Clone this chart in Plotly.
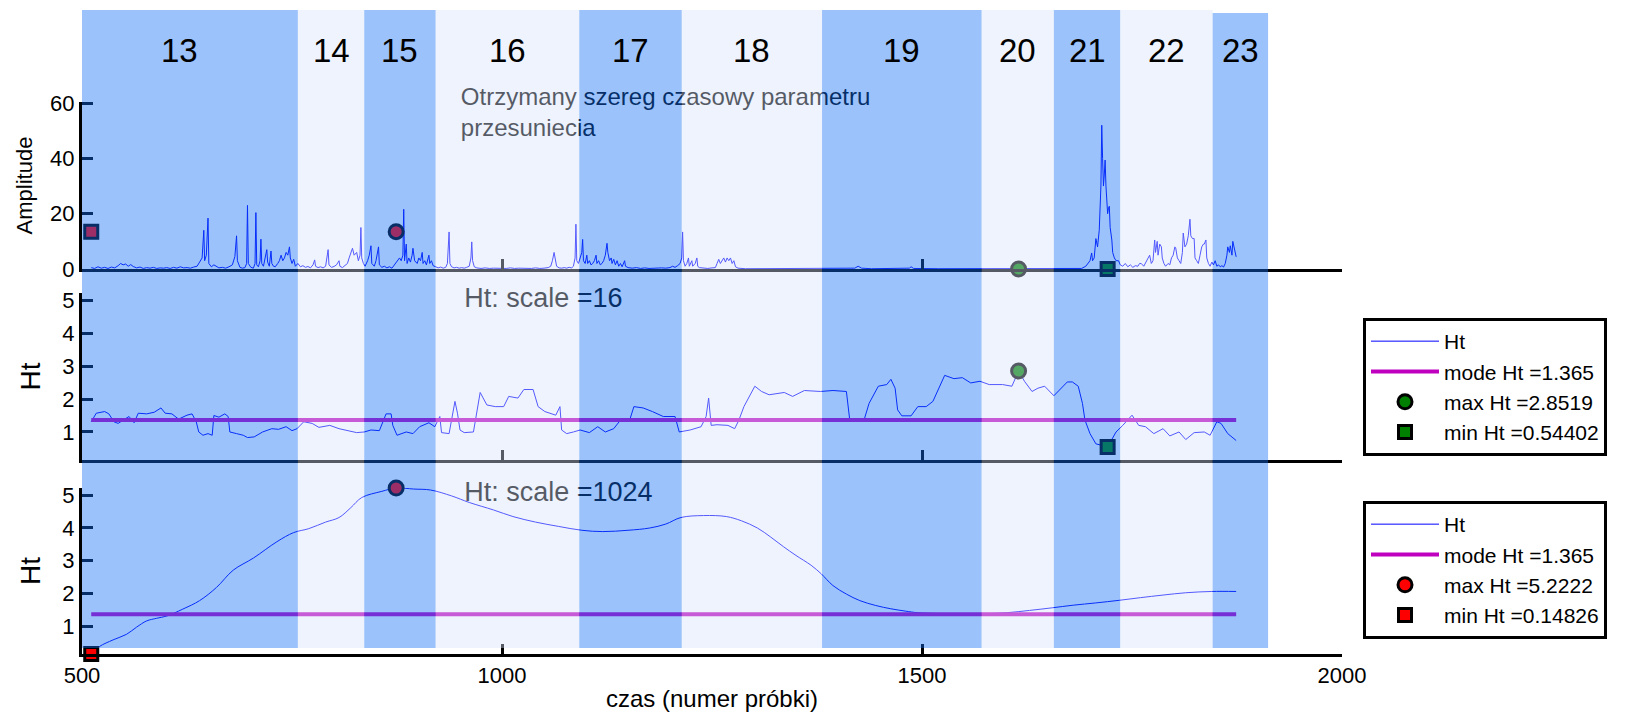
import plotly.graph_objects as go

W, H = 1642, 712
FONT = "Liberation Sans, Arial, Helvetica, sans-serif"

# ---------------- data ----------------
segments = ["13", "14", "15", "16", "17", "18", "19", "20", "21", "22", "23"]
segment_edges = [476, 757, 836, 921, 1092, 1214, 1381, 1571, 1657, 1736, 1846, 1912]

amp_x = [511, 515, 519, 523, 527, 531, 535, 539, 543, 546, 549, 552, 555, 558, 561, 565, 569, 573, 577, 581,
         585, 589, 593, 597, 601, 605, 609, 613, 617, 621, 625, 629, 633, 637, 640, 643, 645, 646, 648, 650,
         651, 654, 657, 660, 663, 667, 671, 675, 679, 682, 684, 685, 688, 691, 694, 696, 697, 698, 701, 704,
         706, 707, 708, 710, 712, 713, 714, 716, 718, 720, 721, 723, 725, 726, 728, 730, 733, 735, 737, 739,
         741, 743, 745, 747, 748, 750, 752, 754, 757, 760, 763, 766, 769, 772, 775, 777, 778, 781, 784, 787,
         790, 793, 794, 797, 800, 803, 806, 807, 810, 813, 816, 818, 820, 822, 824, 827, 829, 831, 832, 833,
         835, 837, 840, 842, 844, 845, 848, 850, 853, 854, 857, 860, 863, 866, 869, 872, 875, 878, 880, 882,
         883, 884, 886, 887, 889, 891, 893, 894, 896, 899, 901, 903, 905, 906, 908, 910, 913, 914, 916, 918,
         921, 924, 927, 930, 933, 935, 937, 938, 940, 943, 946, 949, 952, 955, 958, 961, 963, 964, 965, 967,
         970, 975, 980, 985, 990, 995, 1000, 1005, 1010, 1015, 1020, 1025, 1030, 1035, 1040, 1045, 1050, 1055, 1058, 1060,
         1062, 1063, 1065, 1068, 1071, 1074, 1077, 1080, 1083, 1085, 1087, 1088, 1089, 1091, 1093, 1095, 1096, 1097, 1099, 1101,
         1102, 1104, 1106, 1108, 1110, 1112, 1113, 1115, 1117, 1119, 1121, 1123, 1125, 1126, 1128, 1130, 1131, 1133, 1135, 1137,
         1139, 1141, 1143, 1146, 1147, 1150, 1155, 1160, 1165, 1170, 1175, 1180, 1185, 1190, 1195, 1200, 1203, 1206, 1209, 1212,
         1214, 1215, 1216, 1218, 1220, 1222, 1223, 1226, 1227, 1230, 1232, 1233, 1235, 1240, 1245, 1250, 1254, 1256, 1258, 1260,
         1262, 1264, 1266, 1268, 1270, 1272, 1274, 1276, 1278, 1281, 1290, 1320, 1350, 1380, 1410, 1420, 1424, 1428, 1440, 1470,
         1485, 1487, 1490, 1520, 1550, 1580, 1610, 1640, 1670, 1690, 1695, 1698, 1700, 1702, 1703, 1705, 1707, 1709, 1711, 1713,
         1714, 1715, 1716, 1717, 1718, 1719, 1720, 1721, 1722, 1723, 1724, 1726, 1727, 1729, 1731, 1734, 1736, 1739, 1742, 1745,
         1748, 1751, 1754, 1757, 1759, 1761, 1764, 1767, 1769, 1771, 1773, 1775, 1777, 1778, 1780, 1781, 1783, 1785, 1786, 1788,
         1790, 1793, 1795, 1797, 1799, 1801, 1802, 1804, 1806, 1808, 1810, 1811, 1813, 1815, 1817, 1819, 1820, 1822, 1824, 1825,
         1827, 1829, 1831, 1833, 1835, 1836, 1838, 1839, 1841, 1843, 1845, 1847, 1849, 1851, 1853, 1855, 1857, 1859, 1861, 1863,
         1864, 1866, 1867, 1869, 1870, 1872, 1874]
amp_y = [0.5, 0.2, 0.8, 0.3, 0.6, 0.2, 0.7, 0.4, 1.2, 2.0, 1.5, 1.8, 1.0, 1.6, 0.9, 0.4, 0.7, 0.2, 0.5, 0.3,
         0.6, 0.2, 0.4, 0.3, 0.5, 0.2, 0.6, 0.3, 0.8, 0.4, 0.5, 0.3, 0.7, 1.0, 2.5, 4.0, 14.0, 3.0, 5.0, 18.4,
         2.0, 0.8, 1.5, 1.0, 0.4, 0.6, 0.3, 0.8, 1.5, 4.5, 12.0, 3.0, 0.6, 0.3, 0.5, 2.0, 23.0, 2.0, 0.6, 0.3,
         2.0, 20.4, 1.5, 0.8, 3.0, 10.8, 2.0, 1.0, 4.0, 7.0, 2.5, 1.0, 6.5, 2.0, 1.0, 0.8, 2.0, 3.0, 5.0, 3.0,
         4.0, 6.0, 5.0, 8.0, 4.0, 2.0, 3.5, 1.0, 2.0, 0.8, 1.2, 0.6, 0.9, 0.4, 1.5, 3.3, 1.0, 0.5, 0.8, 0.4,
         1.0, 7.0, 1.5, 0.6, 0.9, 1.5, 3.0, 1.0, 0.5, 1.2, 2.0, 4.0, 6.0, 7.5, 5.0, 6.0, 3.0, 5.0, 15.0, 4.0,
         2.0, 1.0, 3.0, 5.0, 8.4, 2.0, 1.0, 3.0, 8.0, 1.5, 0.6, 1.0, 0.4, 0.8, 0.3, 1.5, 2.5, 4.0, 3.0, 5.0,
         21.6, 3.0, 9.0, 2.0, 4.0, 2.5, 5.0, 7.5, 3.0, 2.0, 4.0, 3.0, 6.0, 2.0, 3.0, 1.5, 5.0, 2.0, 3.0, 1.2,
         0.8, 0.4, 0.7, 0.3, 0.6, 2.0, 13.4, 2.0, 0.8, 0.4, 0.6, 0.3, 0.5, 0.3, 0.6, 1.0, 4.0, 9.8, 3.0, 0.8,
         0.4, 0.2, 0.4, 0.2, 0.3, 0.2, 0.3, 0.2, 0.4, 0.2, 0.3, 0.2, 0.3, 0.2, 0.4, 0.2, 0.3, 0.5, 1.0, 3.0,
         6.0, 4.0, 1.0, 0.4, 0.3, 0.5, 0.3, 0.6, 0.4, 1.0, 4.0, 16.2, 3.0, 2.0, 4.0, 6.0, 10.7, 3.0, 2.0, 5.0,
         2.0, 3.0, 1.5, 2.0, 3.0, 5.0, 2.0, 3.0, 1.5, 2.0, 3.0, 5.0, 9.3, 6.0, 3.0, 4.0, 2.0, 3.5, 1.5, 3.0,
         1.0, 2.0, 0.8, 3.0, 1.0, 0.5, 0.3, 0.5, 0.2, 0.4, 0.2, 0.3, 0.2, 0.4, 0.3, 0.5, 1.0, 0.6, 1.2, 2.0,
         4.0, 13.4, 3.0, 1.0, 2.0, 4.0, 1.0, 3.0, 1.0, 2.0, 4.0, 1.0, 0.5, 0.3, 0.2, 0.4, 0.5, 2.0, 3.5, 2.0,
         3.0, 4.0, 2.5, 4.0, 3.0, 4.0, 2.0, 3.0, 0.8, 0.3, 0.1, 0.1, 0.1, 0.1, 0.1, 0.3, 1.0, 0.3, 0.1, 0.1,
         0.3, 0.8, 0.2, 0.1, 0.1, 0.1, 0.1, 0.1, 0.1, 0.2, 1.0, 2.0, 3.0, 5.8, 3.0, 4.0, 11.0, 8.0, 14.0, 30.0,
         52.0, 40.0, 30.0, 34.0, 39.4, 30.0, 25.0, 20.0, 22.0, 22.7, 15.0, 10.5, 6.0, 4.0, 3.0, 3.0, 1.5, 1.0, 2.0, 0.8,
         1.5, 0.6, 1.2, 1.0, 2.0, 2.0, 1.0, 2.5, 3.5, 5.0, 2.0, 3.0, 10.5, 6.0, 10.0, 5.0, 9.0, 8.0, 4.0, 2.0,
         1.0, 2.0, 1.5, 4.0, 5.0, 8.0, 7.7, 4.0, 3.0, 2.0, 6.0, 13.0, 8.0, 9.0, 12.0, 18.0, 12.0, 11.0, 11.0, 4.0,
         3.0, 2.0, 5.0, 8.0, 9.0, 9.0, 10.5, 4.0, 2.0, 1.0, 2.5, 1.5, 3.0, 1.0, 1.5, 0.8, 1.2, 0.7, 2.0, 5.0,
         8.0, 6.0, 8.4, 5.0, 10.0, 7.0, 4.4]

ht16_x = [511, 517, 527, 532, 538, 543, 549, 556, 562, 567, 577, 586, 594, 599, 607, 615, 625, 631, 636, 639,
          644, 650, 655, 657, 663, 670, 674, 676, 684, 692, 697, 705, 715, 726, 734, 743, 750, 756, 764, 774,
          782, 795, 806, 817, 827, 836, 844, 854, 862, 868, 870, 875, 886, 894, 902, 913, 920, 926, 928, 937,
          944, 947, 950, 955, 966, 974, 982, 992, 1002, 1008, 1019, 1026, 1037, 1043, 1051, 1064, 1069, 1071, 1077, 1085,
          1093, 1104, 1114, 1123, 1133, 1141, 1152, 1157, 1168, 1179, 1192, 1206, 1211, 1224, 1237, 1243, 1246, 1249, 1256, 1269,
          1277, 1282, 1288, 1301, 1309, 1318, 1336, 1346, 1360, 1379, 1394, 1410, 1414, 1420, 1431, 1437, 1448, 1458, 1463, 1468,
          1471, 1476, 1487, 1495, 1505, 1513, 1519, 1527, 1538, 1548, 1558, 1569, 1580, 1596, 1607, 1615, 1622, 1631, 1638, 1646,
          1657, 1662, 1673, 1679, 1686, 1691, 1694, 1700, 1707, 1721, 1731, 1739, 1750, 1758, 1766, 1776, 1787, 1795, 1806, 1814,
          1824, 1836, 1843, 1851, 1856, 1864, 1874]
ht16_y = [1.31, 1.57, 1.62, 1.55, 1.31, 1.26, 1.36, 1.47, 1.28, 1.57, 1.55, 1.60, 1.73, 1.57, 1.55, 1.39, 1.51, 1.55, 1.31, 1.00,
          0.90, 0.95, 0.90, 1.50, 1.45, 1.55, 1.47, 1.00, 0.95, 0.90, 0.83, 0.85, 1.00, 1.10, 1.08, 1.16, 1.04, 1.10, 1.31, 1.26,
          1.14, 1.20, 1.10, 1.04, 0.98, 1.00, 1.06, 1.04, 1.55, 1.55, 1.20, 0.90, 1.00, 0.95, 1.16, 1.28, 1.16, 1.47, 0.98, 0.95,
          1.93, 1.57, 1.06, 0.98, 1.00, 2.20, 1.82, 1.77, 1.77, 2.08, 2.03, 2.29, 2.29, 1.77, 1.62, 1.51, 1.77, 1.06, 0.95, 1.00,
          1.06, 0.98, 1.16, 1.00, 1.10, 1.36, 1.36, 1.77, 1.73, 1.62, 1.47, 1.47, 1.00, 1.06, 1.16, 1.47, 2.03, 1.20, 1.22, 1.20,
          1.10, 1.36, 1.77, 2.39, 2.23, 2.13, 2.20, 2.08, 2.26, 2.23, 2.26, 2.23, 1.36, 1.34, 1.36, 1.87, 2.39, 2.44, 2.60, 2.33,
          1.67, 1.49, 1.49, 1.77, 1.77, 1.93, 2.29, 2.72, 2.62, 2.65, 2.49, 2.54, 2.44, 2.44, 2.39, 2.8519, 2.54, 2.23, 2.33, 2.39,
          2.10, 2.23, 2.52, 2.52, 2.39, 1.87, 1.36, 0.95, 0.64, 0.54402, 1.00, 1.20, 1.51, 1.20, 1.16, 0.95, 1.10, 0.88, 1.00, 0.77,
          0.98, 1.00, 0.90, 1.31, 1.26, 0.95, 0.74]

ht1024_x = [511, 521, 537, 553, 565, 577, 589, 601, 620, 640, 660, 680, 704, 732, 752, 770, 790, 806, 820, 833,
            857, 874, 895, 915, 940, 961, 990, 1013, 1040, 1067, 1095, 1120, 1150, 1176, 1195, 1213, 1240, 1267, 1285, 1304,
            1320, 1335, 1350, 1368, 1380, 1394, 1410, 1426, 1445, 1463, 1480, 1495, 1520, 1548, 1575, 1601, 1628, 1655, 1680, 1707,
            1735, 1760, 1787, 1814, 1845, 1874]
ht1024_y = [0.14826, 0.38, 0.58, 0.75, 0.97, 1.16, 1.24, 1.31, 1.52, 1.78, 2.18, 2.71, 3.08, 3.58, 3.86, 3.98, 4.18, 4.32, 4.62, 4.93,
            5.12, 5.2222, 5.19, 5.16, 4.98, 4.78, 4.55, 4.35, 4.18, 4.05, 3.93, 3.89, 3.93, 4.00, 4.12, 4.32, 4.38, 4.35, 4.22, 4.00,
            3.72, 3.43, 3.16, 2.86, 2.60, 2.24, 1.98, 1.78, 1.63, 1.53, 1.46, 1.41, 1.385, 1.375, 1.38, 1.41, 1.48, 1.56, 1.64, 1.71,
            1.79, 1.87, 1.95, 2.02, 2.06, 2.06]

mode_ht = 1.365
ht16_max, ht16_max_x = 2.8519, 1615
ht16_min, ht16_min_x = 0.54402, 1721
ht1024_max, ht1024_max_x = 5.2222, 874
ht1024_min, ht1024_min_x = 0.14826, 511
amp_marker_level = 13.5

x_range = [500, 2000]
x_ticks = [500, 1000, 1500, 2000]
amp_ticks = [0, 20, 40, 60]
ht_ticks = [1, 2, 3, 4, 5]


# ---------------- layout helpers (pixel -> paper) ----------------
def px(p):
    return p / W


def py(p):
    return 1 - p / H


BLUE = "#0000ff"
MAGENTA = "#bf00bf"
GREEN = "#008000"
RED = "#ff0000"

fig = go.Figure()


def ht_panel(xa, ya, xs, ys, vmax, vmax_x, vmin, vmin_x, color, legend, shape):
    fig.add_trace(go.Scatter(x=xs, y=ys, xaxis=xa, yaxis=ya, mode="lines", name="Ht",
                             line=dict(color=BLUE, width=1, shape=shape), legend=legend))
    fig.add_trace(go.Scatter(x=[xs[0], xs[-1]], y=[mode_ht, mode_ht], xaxis=xa, yaxis=ya, mode="lines",
                             name=f"mode Ht ={mode_ht}", line=dict(color=MAGENTA, width=4), legend=legend))
    fig.add_trace(go.Scatter(x=[vmax_x], y=[vmax], xaxis=xa, yaxis=ya, mode="markers",
                             name=f"max Ht ={vmax}", legend=legend, cliponaxis=False,
                             marker=dict(symbol="circle", size=14, color=color, line=dict(color="black", width=3))))
    fig.add_trace(go.Scatter(x=[vmin_x], y=[vmin], xaxis=xa, yaxis=ya, mode="markers",
                             name=f"min Ht ={vmin}", legend=legend, cliponaxis=False,
                             marker=dict(symbol="square", size=13, color=color, line=dict(color="black", width=3))))


# top panel: amplitude series
fig.add_trace(go.Scatter(x=amp_x, y=amp_y, xaxis="x2", yaxis="y", mode="lines",
                         line=dict(color=BLUE, width=1), showlegend=False))
for mx, my, sym, col in [(ht1024_min_x, amp_marker_level, "square", RED),
                         (ht1024_max_x, amp_marker_level, "circle", RED),
                         (ht16_max_x, 0, "circle", GREEN),
                         (ht16_min_x, 0, "square", GREEN)]:
    fig.add_trace(go.Scatter(x=[mx], y=[my], xaxis="x2", yaxis="y", mode="markers", showlegend=False,
                             cliponaxis=False,
                             marker=dict(symbol=sym, size=14 if sym == "circle" else 13, color=col,
                                         line=dict(color="black", width=3))))
fig.add_trace(go.Scatter(x=[951], y=[55.8], xaxis="x2", yaxis="y", mode="text", showlegend=False,
                         text=["Otrzymany szereg czasowy parametru<br>przesuniecia"],
                         textposition="middle right", cliponaxis=False,
                         textfont=dict(size=24, color="black", family=FONT)))

# middle panel: Ht, scale 16
ht_panel("x3", "y2", ht16_x, ht16_y, ht16_max, ht16_max_x, ht16_min, ht16_min_x, GREEN, "legend", "linear")
fig.add_trace(go.Scatter(x=[955], y=[5.0], xaxis="x3", yaxis="y2", mode="text", showlegend=False,
                         text=["Ht: scale =16"], textposition="middle right", cliponaxis=False,
                         textfont=dict(size=27, color="black", family=FONT)))

# bottom panel: Ht, scale 1024
ht_panel("x", "y3", ht1024_x, ht1024_y, ht1024_max, ht1024_max_x, ht1024_min, ht1024_min_x, RED, "legend2", "spline")
fig.add_trace(go.Scatter(x=[955], y=[5.03], xaxis="x", yaxis="y3", mode="text", showlegend=False,
                         text=["Ht: scale =1024"], textposition="middle right", cliponaxis=False,
                         textfont=dict(size=27, color="black", family=FONT)))

# segment bands, drawn over the data as translucent overlays
shapes, annotations = [], []
for i, name in enumerate(segments):
    x0, x1 = segment_edges[i], segment_edges[i + 1]
    dark = i % 2 == 0
    shapes.append(dict(type="rect", xref="x", yref="paper",
                       x0=max(x0, x_range[0]), x1=x1,
                       y0=py(648), y1=py(13 if name == "23" else 10),
                       fillcolor="rgb(17,110,243)" if dark else "rgb(212,225,250)",
                       opacity=0.42 if dark else 0.4, line=dict(width=0), layer="above"))
    annotations.append(dict(x=(x0 + x1) / 2, xref="x", y=py(50), yref="paper", yanchor="middle",
                            text=name, showarrow=False, font=dict(size=33, color="black", family=FONT)))

xdom = [px(82), px(1342)]
axis_common = dict(showline=True, linewidth=3, linecolor="black", ticks="inside", ticklen=10, tickwidth=3,
                   tickcolor="black", showgrid=False, zeroline=False, mirror=False,
                   tickfont=dict(size=22, color="black", family=FONT))

xaxis_common = dict(axis_common, domain=xdom, range=x_range, tickvals=x_ticks)

legend_common = dict(x=px(1363), xanchor="left", yanchor="top", bgcolor="white",
                     bordercolor="black", borderwidth=3, font=dict(size=21, color="black", family=FONT),
                     itemwidth=68, tracegroupgap=0)

fig.update_layout(
    width=W, height=H,
    margin=dict(l=0, r=0, t=0, b=0, autoexpand=False),
    paper_bgcolor="white", plot_bgcolor="rgba(0,0,0,0)",
    font=dict(family=FONT, color="black"),
    showlegend=True,
    xaxis=dict(xaxis_common, anchor="y3", showticklabels=True,
               title=dict(text="czas (numer próbki)", font=dict(size=24, family=FONT), standoff=10)),
    xaxis2=dict(xaxis_common, anchor="y", matches="x", showticklabels=False),
    xaxis3=dict(xaxis_common, anchor="y2", matches="x", showticklabels=False),
    yaxis=dict(axis_common, domain=[py(269), py(102)], range=[0, 60.4], tickvals=amp_ticks, anchor="x2",
               ticklen=11, title=dict(text="Amplitude", font=dict(size=22, family=FONT), standoff=12)),
    yaxis2=dict(axis_common, domain=[py(460), py(293)], range=[ht1024_min, ht1024_max], tickvals=ht_ticks,
                anchor="x3", ticklen=11, title=dict(text="Ht", font=dict(size=28, family=FONT), standoff=14)),
    yaxis3=dict(axis_common, domain=[py(654), py(488)], range=[ht1024_min, ht1024_max], tickvals=ht_ticks,
                anchor="x", ticklen=11, title=dict(text="Ht", font=dict(size=28, family=FONT), standoff=14)),
    legend=dict(legend_common, y=py(318)),
    legend2=dict(legend_common, y=py(501)),
    shapes=shapes,
    annotations=annotations,
)

fig.write_html("out.html")
